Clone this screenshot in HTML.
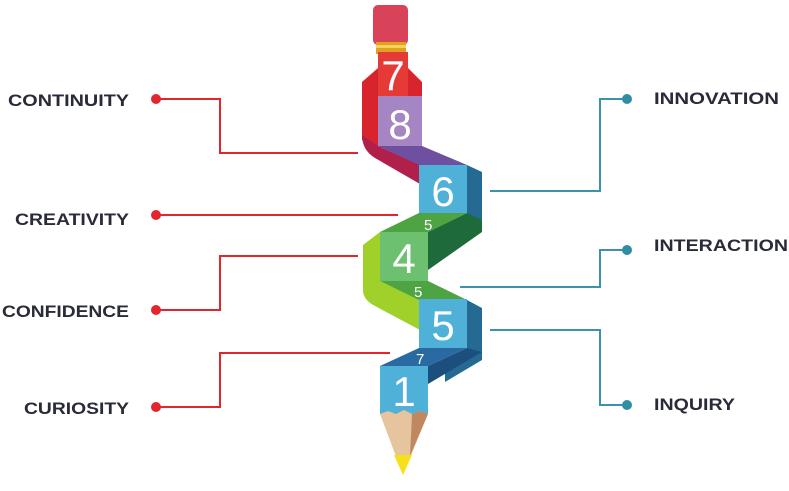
<!DOCTYPE html>
<html><head><style>html,body{margin:0;padding:0;background:#fff;width:789px;height:491px;overflow:hidden}</style></head>
<body>
<svg width="789" height="491" viewBox="0 0 789 491" xmlns="http://www.w3.org/2000/svg" font-family="Liberation Sans, sans-serif">
<g fill="none" stroke-width="2">
<g stroke="#e3262b">
<path d="M156 99H220V153H358"/>
<path d="M156 215H398"/>
<path d="M156 310H220V256H358"/>
<path d="M156 407H220V353H390"/>
</g>
<g stroke="#3a93a8">
<path d="M627 99H600V191H490"/>
<path d="M627 250H600V287H460"/>
<path d="M627 405H600V330H490"/>
</g>
</g>
<g fill="#e3262b"><circle cx="156" cy="99" r="5"/><circle cx="156" cy="215" r="5"/><circle cx="156" cy="310" r="5"/><circle cx="156" cy="407" r="5"/></g>
<g fill="#2f8ea4"><circle cx="627" cy="99" r="5"/><circle cx="627" cy="250" r="5"/><circle cx="627" cy="405" r="5"/></g>
<g font-weight="bold" font-size="17" fill="#2a2b38">
<text x="129" y="106" text-anchor="end" textLength="121" lengthAdjust="spacingAndGlyphs">CONTINUITY</text>
<text x="129" y="225" text-anchor="end" textLength="114" lengthAdjust="spacingAndGlyphs">CREATIVITY</text>
<text x="129" y="317" text-anchor="end" textLength="127" lengthAdjust="spacingAndGlyphs">CONFIDENCE</text>
<text x="129" y="414" text-anchor="end" textLength="105" lengthAdjust="spacingAndGlyphs">CURIOSITY</text>
<text x="654" y="104" textLength="125" lengthAdjust="spacingAndGlyphs">INNOVATION</text>
<text x="654" y="251" textLength="134" lengthAdjust="spacingAndGlyphs">INTERACTION</text>
<text x="654" y="410" textLength="81" lengthAdjust="spacingAndGlyphs">INQUIRY</text>
</g>
<rect x="373" y="5" width="35" height="40" rx="5" fill="#d8435a"/>
<rect x="376" y="42" width="30" height="12" fill="#e0a020"/>
<rect x="376" y="45" width="30" height="3" fill="#f5d060"/>
<path d="M378 52H408V68L422 82V146H378V150L362 140V82L378 68Z" fill="#d8242d"/>
<path d="M362 135Q362 150 375 158L420 184V165L378 146Z" fill="#b0204a"/>
<rect x="378" y="52" width="30" height="44" fill="#e53a36"/>
<text x="393" y="90" font-size="42" fill="#fff" text-anchor="middle">7</text>
<rect x="378" y="96" width="44" height="50" fill="#a585c4"/>
<text x="400" y="139" font-size="42" fill="#fff" text-anchor="middle">8</text>
<path d="M378 146H422L467 165H419Z" fill="#6e4fa0"/>
<path d="M467 165L482 172V228L467 220Z" fill="#246a92"/>
<rect x="419" y="165" width="48" height="48" fill="#4fb0d8"/>
<text x="443" y="206" font-size="42" fill="#fff" text-anchor="middle">6</text>
<path d="M419 213H467L428 232H380Z" fill="#4ea443"/>
<path d="M467 213L482 220V232L428 270V232Z" fill="#1e6a3a"/>
<text x="424" y="230" font-size="15" fill="#fff">5</text>
<path d="M380 232L363 245V290Q363 300 375 306L420 330V300L380 281Z" fill="#9fd12a"/>
<rect x="380" y="232" width="48" height="49" fill="#6cc070"/>
<text x="404" y="273" font-size="42" fill="#fff" text-anchor="middle">4</text>
<path d="M380 281H428L467 300H419Z" fill="#4ea443"/>
<text x="414" y="297" font-size="15" fill="#fff">5</text>
<path d="M467 300L482 308V360L445 382V366L467 348Z" fill="#246a92"/>
<rect x="419" y="299" width="48" height="49" fill="#4fb0d8"/>
<text x="443" y="340" font-size="42" fill="#fff" text-anchor="middle">5</text>
<path d="M419 348H467L428 366H380Z" fill="#2a6aa2"/>
<path d="M467 348L482 352L428 384V366Z" fill="#1d4f7e"/>
<text x="416" y="364" font-size="15" fill="#fff">7</text>
<rect x="380" y="366" width="48" height="48" fill="#4fb0d8"/>
<text x="404" y="406" font-size="42" fill="#fff" text-anchor="middle">1</text>
<path d="M380 414L388 411L396 414L404 410L412 414L420 411L428 414L403 475Z" fill="#e6c49e"/>
<path d="M412 414L420 411L428 414L410 456Z" fill="#c08860"/>
<path d="M394 455H412L403 475Z" fill="#f7e01a"/>
</svg>
</body></html>
